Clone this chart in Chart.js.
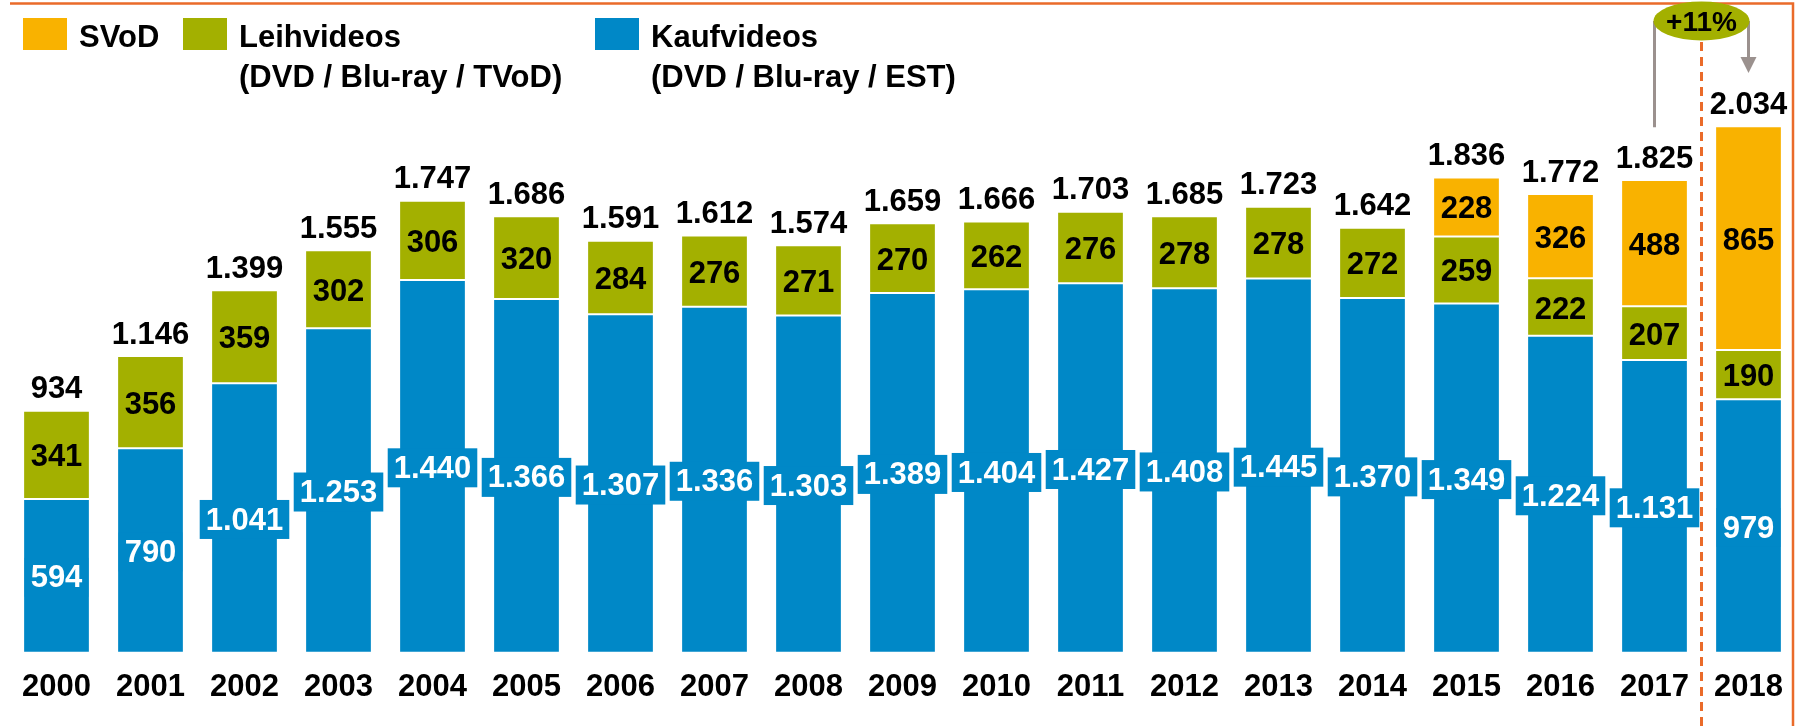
<!DOCTYPE html>
<html>
<head>
<meta charset="utf-8">
<script src="https://cdn.jsdelivr.net/npm/chart.js@4.4.0/dist/chart.umd.min.js"></script>
<style>
  html, body { margin: 0; padding: 0; background: #fff; }
  #wrap { width: 1801px; height: 726px; position: relative; }
</style>
</head>
<body>
<div id="wrap"><canvas id="videoChart"></canvas></div>
<script>
const years = ['2000', '2001', '2002', '2003', '2004', '2005', '2006', '2007', '2008', '2009',
               '2010', '2011', '2012', '2013', '2014', '2015', '2016', '2017', '2018'];
const kaufvideos = [594, 790, 1041, 1253, 1440, 1366, 1307, 1336, 1303, 1389,
                    1404, 1427, 1408, 1445, 1370, 1349, 1224, 1131, 979];
const leihvideos = [341, 356, 359, 302, 306, 320, 284, 276, 271, 270,
                    262, 276, 278, 278, 272, 259, 222, 207, 190];
const svod = [0, 0, 0, 0, 0, 0, 0, 0, 0, 0,
              0, 0, 0, 0, 0, 228, 326, 488, 865];
const totals = [934, 1146, 1399, 1555, 1747, 1686, 1591, 1612, 1574, 1659,
                1666, 1703, 1685, 1723, 1642, 1836, 1772, 1825, 2034];
const legendLines = [
    ['SVoD'],
    ['Leihvideos', '(DVD / Blu-ray / TVoD)'],
    ['Kaufvideos', '(DVD / Blu-ray / EST)']
];
const growthLabel = '+11%';

const BLUE = '#0088C7';
const OLIVE = '#A3B000';
const ORANGE = '#F9B200';
const LINE_ORANGE = '#EA6B2A';
const GREY = '#9B918E';
const FONT = 'bold 31px "Liberation Sans", Arial, sans-serif';

// german thousands separator
function fmt(n) {
    if (n < 1000) return String(n);
    return Math.floor(n / 1000) + '.' + String(n % 1000).padStart(3, '0');
}

const labelPlugin = {
    id: 'barLabels',
    afterDatasetsDraw(chart) {
        const ctx = chart.ctx;
        ctx.save();
        ctx.font = FONT;
        ctx.textAlign = 'center';
        ctx.textBaseline = 'middle';
        chart.data.datasets.forEach((ds, i) => {
            const meta = chart.getDatasetMeta(i);
            meta.data.forEach((bar, j) => {
                const v = ds.data[j];
                if (!v) return;
                const cy = (bar.y + bar.base) / 2;
                const txt = fmt(v);
                if (i === 0) {
                    const w = ctx.measureText(txt).width + 12;
                    ctx.fillStyle = BLUE;
                    ctx.fillRect(bar.x - w / 2, cy - 18, w, 39);
                    ctx.fillStyle = '#fff';
                } else {
                    ctx.fillStyle = '#000';
                }
                ctx.fillText(txt, bar.x, cy + 3);
            });
        });
        // totals above the stacks
        const xs = chart.scales.x, ys = chart.scales.y;
        ctx.fillStyle = '#000';
        totals.forEach((t, j) => {
            ctx.fillText(fmt(t), xs.getPixelForValue(j), ys.getPixelForValue(t) - 21);
        });
        ctx.restore();
    }
};

const decorPlugin = {
    id: 'decor',
    afterDraw(chart) {
        const ctx = chart.ctx;
        const xs = chart.scales.x, ys = chart.scales.y;
        const x17 = xs.getPixelForValue(17), x18 = xs.getPixelForValue(18);
        const sep = (x17 + x18) / 2;
        ctx.save();

        // frame lines
        ctx.strokeStyle = LINE_ORANGE;
        ctx.lineWidth = 2.5;
        ctx.beginPath();
        ctx.moveTo(10, 3.5);
        ctx.lineTo(1793, 3.5);
        ctx.lineTo(1793, 726);
        ctx.stroke();

        ctx.lineWidth = 3;
        ctx.setLineDash([9, 6]);
        ctx.beginPath();
        ctx.moveTo(sep, 42);
        ctx.lineTo(sep, 726);
        ctx.stroke();
        ctx.setLineDash([]);

        // growth connector
        ctx.strokeStyle = GREY;
        ctx.fillStyle = GREY;
        ctx.lineWidth = 3;
        ctx.beginPath();
        ctx.moveTo(x17, ys.getPixelForValue(totals[17]) - 53);
        ctx.lineTo(x17, 21);
        ctx.stroke();
        ctx.beginPath();
        ctx.moveTo(x18, 21);
        ctx.lineTo(x18, 58);
        ctx.stroke();
        ctx.beginPath();
        ctx.moveTo(x18 - 8, 57);
        ctx.lineTo(x18 + 8, 57);
        ctx.lineTo(x18, 73);
        ctx.closePath();
        ctx.fill();

        ctx.fillStyle = OLIVE;
        ctx.beginPath();
        ctx.ellipse(sep, 21, 48, 19.5, 0, 0, Math.PI * 2);
        ctx.fill();
        ctx.fillStyle = '#000';
        ctx.font = 'bold 28px "Liberation Sans", Arial, sans-serif';
        ctx.textAlign = 'center';
        ctx.textBaseline = 'middle';
        ctx.fillText(growthLabel, sep, 23);

        // legend
        const colors = [ORANGE, OLIVE, BLUE];
        const boxX = [23, 183, 595];
        ctx.font = FONT;
        ctx.textAlign = 'left';
        ctx.textBaseline = 'alphabetic';
        legendLines.forEach((lines, k) => {
            ctx.fillStyle = colors[k];
            ctx.fillRect(boxX[k], 18, 44, 32);
            ctx.fillStyle = '#000';
            lines.forEach((ln, r) => {
                ctx.fillText(ln, boxX[k] + 56, 47 + r * 40);
            });
        });
        ctx.restore();
    }
};

const segBorder = { top: 1, bottom: 1, left: 0, right: 0 };

new Chart(document.getElementById('videoChart'), {
    type: 'bar',
    data: {
        labels: years,
        datasets: [
            { label: 'Kaufvideos', data: kaufvideos, backgroundColor: BLUE,
              borderColor: '#fff', borderWidth: segBorder, borderSkipped: false },
            { label: 'Leihvideos', data: leihvideos, backgroundColor: OLIVE,
              borderColor: '#fff', borderWidth: segBorder, borderSkipped: false },
            { label: 'SVoD', data: svod, backgroundColor: ORANGE,
              borderColor: '#fff', borderWidth: segBorder, borderSkipped: false }
        ]
    },
    options: {
        responsive: true,
        maintainAspectRatio: false,
        animation: false,
        layout: { padding: { top: 100, left: 9.5, right: 5.5, bottom: 0 } },
        datasets: { bar: { categoryPercentage: 1, barPercentage: 0.69 } },
        plugins: { legend: { display: false }, tooltip: { enabled: false } },
        scales: {
            x: {
                stacked: true,
                grid: { display: false, drawTicks: false },
                border: { display: false },
                ticks: { color: '#000', font: { family: '"Liberation Sans", Arial, sans-serif', size: 31, weight: 'bold' }, padding: 16, maxRotation: 0 },
                afterFit(scale) { scale.height = 73.3; }
            },
            y: {
                stacked: true,
                display: false,
                min: 0,
                max: 2135
            }
        }
    },
    plugins: [labelPlugin, decorPlugin]
});
</script>
</body>
</html>
